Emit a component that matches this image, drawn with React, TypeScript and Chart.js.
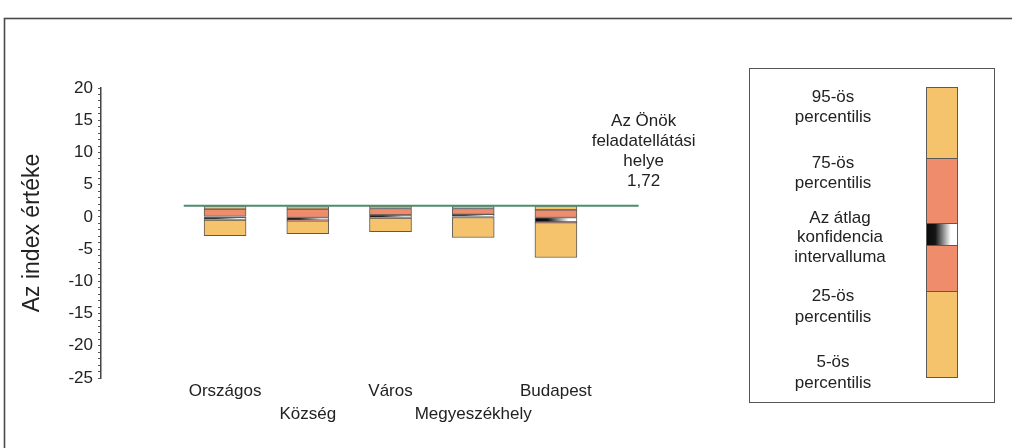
import React, { useEffect, useRef } from 'react';
import { Chart, registerables } from 'chart.js';

Chart.register(...registerables);

// ---- data ----
const categories = ['Országos', 'Község', 'Város', 'Megyeszékhely', 'Budapest'];
const p5 = [-2.9, -2.6, -2.3, -3.2, -6.3];
const p25 = [-0.5, -0.6, -0.2, -0.1, -0.9];
const ciLow = [-0.4, -0.5, -0.1, 0.0, -0.8];
const ciHigh = [0.0, -0.1, 0.3, 0.4, -0.1];
const p75 = [1.2, 1.2, 1.3, 1.3, 1.1];
const p95 = [1.7, 1.6, 1.7, 1.6, 1.7];

const ownValue = 1.72;
const ownLineFrom = 0.5;
const ownLineTo = 6;
const ownLabel = ['Az Önök', 'feladatellátási', 'helye', '1,72'];

const yAxisTitle = 'Az index értéke';
const yMin = -25;
const yMax = 20;
const yLabelStep = 5;

const legendLabels = [
  ['95-ös', 'percentilis'],
  ['75-ös', 'percentilis'],
  ['Az átlag', 'konfidencia', 'intervalluma'],
  ['25-ös', 'percentilis'],
  ['5-ös', 'percentilis'],
];

// ---- styles ----
const ORANGE = '#F5C36C';
const SALMON = '#EE8C6C';
const EDGE = '#5a5a5a';
const TEXT = '#222222';
const FONT = '"Liberation Sans", Arial, Helvetica, sans-serif';

function ciGradient(ctx: CanvasRenderingContext2D, x0: number, x1: number) {
  const g = ctx.createLinearGradient(x0, 0, x1, 0);
  g.addColorStop(0, '#0a0a0a');
  g.addColorStop(0.3, '#141414');
  g.addColorStop(0.8, '#ffffff');
  g.addColorStop(1, '#ffffff');
  return g;
}

const BAR_W = 42;

const decorPlugin = {
  id: 'decor',
  afterDraw(chart: any) {
    const ctx: CanvasRenderingContext2D = chart.ctx;
    const area = chart.chartArea;
    const xs = chart.scales.x;
    const ys = chart.scales.y;
    ctx.save();

    // outer frame
    ctx.strokeStyle = '#4a4a4a';
    ctx.lineWidth = 1.6;
    ctx.strokeRect(4.5, 18.5, 1020, 440);

    // y axis title
    ctx.save();
    ctx.translate(33, (area.top + area.bottom) / 2);
    ctx.rotate(-Math.PI / 2);
    ctx.fillStyle = TEXT;
    ctx.font = `23px ${FONT}`;
    ctx.textAlign = 'center';
    ctx.textBaseline = 'middle';
    ctx.fillText(yAxisTitle, 0, 0);
    ctx.restore();

    // annotation for own value
    ctx.fillStyle = TEXT;
    ctx.font = `17px ${FONT}`;
    ctx.textAlign = 'center';
    ctx.textBaseline = 'middle';
    const ax = xs.getPixelForValue(ownLineTo) + 5;
    const ay = ys.getPixelForValue(ownValue);
    ownLabel.forEach((t, i) => {
      ctx.fillText(t, ax, ay - 84 + i * 19.7);
    });

    // legend box
    ctx.strokeStyle = '#555';
    ctx.lineWidth = 1;
    ctx.strokeRect(749.5, 68.5, 245, 334);

    // legend colour column
    const colX = 926;
    const colW = 31;
    const bounds = [87, 158, 223, 245, 291, 377];
    const fills: (string | CanvasGradient)[] = [
      ORANGE,
      SALMON,
      ciGradient(ctx, colX, colX + colW),
      SALMON,
      ORANGE,
    ];
    for (let i = 0; i < 5; i++) {
      ctx.fillStyle = fills[i] as any;
      ctx.fillRect(colX, bounds[i], colW, bounds[i + 1] - bounds[i]);
    }
    ctx.strokeStyle = EDGE;
    for (let i = 0; i < 5; i++) {
      ctx.strokeRect(colX + 0.5, bounds[i] + 0.5, colW, bounds[i + 1] - bounds[i]);
    }

    // legend texts
    const legendY = [
      [97, 117],
      [163, 183],
      [218, 237.5, 257],
      [296, 317],
      [362, 383],
    ];
    const legendX = [833, 833, 840, 833, 833];
    ctx.fillStyle = TEXT;
    ctx.font = `17px ${FONT}`;
    legendLabels.forEach((lines, i) => {
      lines.forEach((t, j) => ctx.fillText(t, legendX[i], legendY[i][j]));
    });

    ctx.restore();
  },
};

const seg = (lo: number[], hi: number[]) =>
  categories.map((_, i) => ({ x: i + 1, y: [lo[i], hi[i]] }));

export default function App() {
  const ref = useRef<HTMLCanvasElement | null>(null);

  useEffect(() => {
    if (!ref.current) return;
    const barBase = {
      type: 'bar' as const,
      grouped: false,
      barThickness: BAR_W,
      borderColor: EDGE,
      borderWidth: 1,
      borderSkipped: false,
      order: 1,
    };
    const ciColor = (c: any) => {
      const chart = c.chart;
      const xs = chart.scales && chart.scales.x;
      if (!xs || c.dataIndex === undefined) return '#111';
      const cx = xs.getPixelForValue(c.dataIndex + 1);
      if (!Number.isFinite(cx)) return '#111';
      return ciGradient(chart.ctx, cx - BAR_W / 2, cx + BAR_W / 2);
    };
    const chart = new Chart(ref.current, {
      type: 'bar',
      data: {
        datasets: [
          { ...barBase, data: seg(p5, p25), backgroundColor: ORANGE },
          { ...barBase, data: seg(p25, ciLow), backgroundColor: SALMON },
          { ...barBase, data: seg(ciLow, ciHigh), backgroundColor: ciColor },
          { ...barBase, data: seg(ciHigh, p75), backgroundColor: SALMON },
          { ...barBase, data: seg(p75, p95), backgroundColor: ORANGE },
          {
            type: 'line' as const,
            data: [
              { x: ownLineFrom, y: ownValue },
              { x: ownLineTo, y: ownValue },
            ],
            borderColor: '#4E8C6E',
            borderWidth: 2,
            pointRadius: 0,
            order: 0,
          },
        ] as any,
      },
      options: {
        animation: false,
        responsive: false,
        maintainAspectRatio: false,
        devicePixelRatio: 1,
        layout: { padding: { top: 88, right: 332, bottom: 0, left: 0 } },
        plugins: {
          legend: { display: false },
          tooltip: { enabled: false },
        },
        scales: {
          x: {
            type: 'linear',
            min: -0.5,
            max: 6.5,
            offset: false,
            grid: { display: false, offset: false },
            border: { display: false },
            afterBuildTicks: (s: any) => {
              s.ticks = categories.map((_, i) => ({ value: i + 1 }));
            },
            afterFit: (s: any) => {
              s.height = 70;
              s.paddingLeft = 0;
              s.paddingRight = 0;
            },
            ticks: {
              autoSkip: false,
              maxRotation: 0,
              padding: -6,
              color: TEXT,
              font: { family: FONT, size: 17, lineHeight: '23px' } as any,
              callback: (v: any) => {
                const i = Math.round(Number(v)) - 1;
                const l = categories[i];
                if (!l) return '';
                return i % 2 === 0 ? [l, ''] : ['', l];
              },
            },
          },
          y: {
            type: 'linear',
            min: yMin,
            max: yMax,
            afterFit: (s: any) => {
              s.width = 101;
            },
            grid: {
              drawOnChartArea: false,
              drawTicks: true,
              tickLength: 3,
              color: '#555',
            },
            border: { display: true, color: '#444', width: 1.5 },
            ticks: {
              stepSize: 1,
              autoSkip: false,
              padding: 5,
              color: TEXT,
              font: { family: FONT, size: 17 },
              callback: (v: any) => (Number(v) % yLabelStep === 0 ? String(v) : ''),
            },
          },
        } as any,
      },
      plugins: [decorPlugin],
    });
    return () => chart.destroy();
  }, []);

  return (
    <div style={{ position: 'fixed', left: 0, top: 0, width: 1012, height: 448, background: '#fff' }}>
      <canvas ref={ref} width={1012} height={448} style={{ width: 1012, height: 448, display: 'block' }} />
    </div>
  );
}
